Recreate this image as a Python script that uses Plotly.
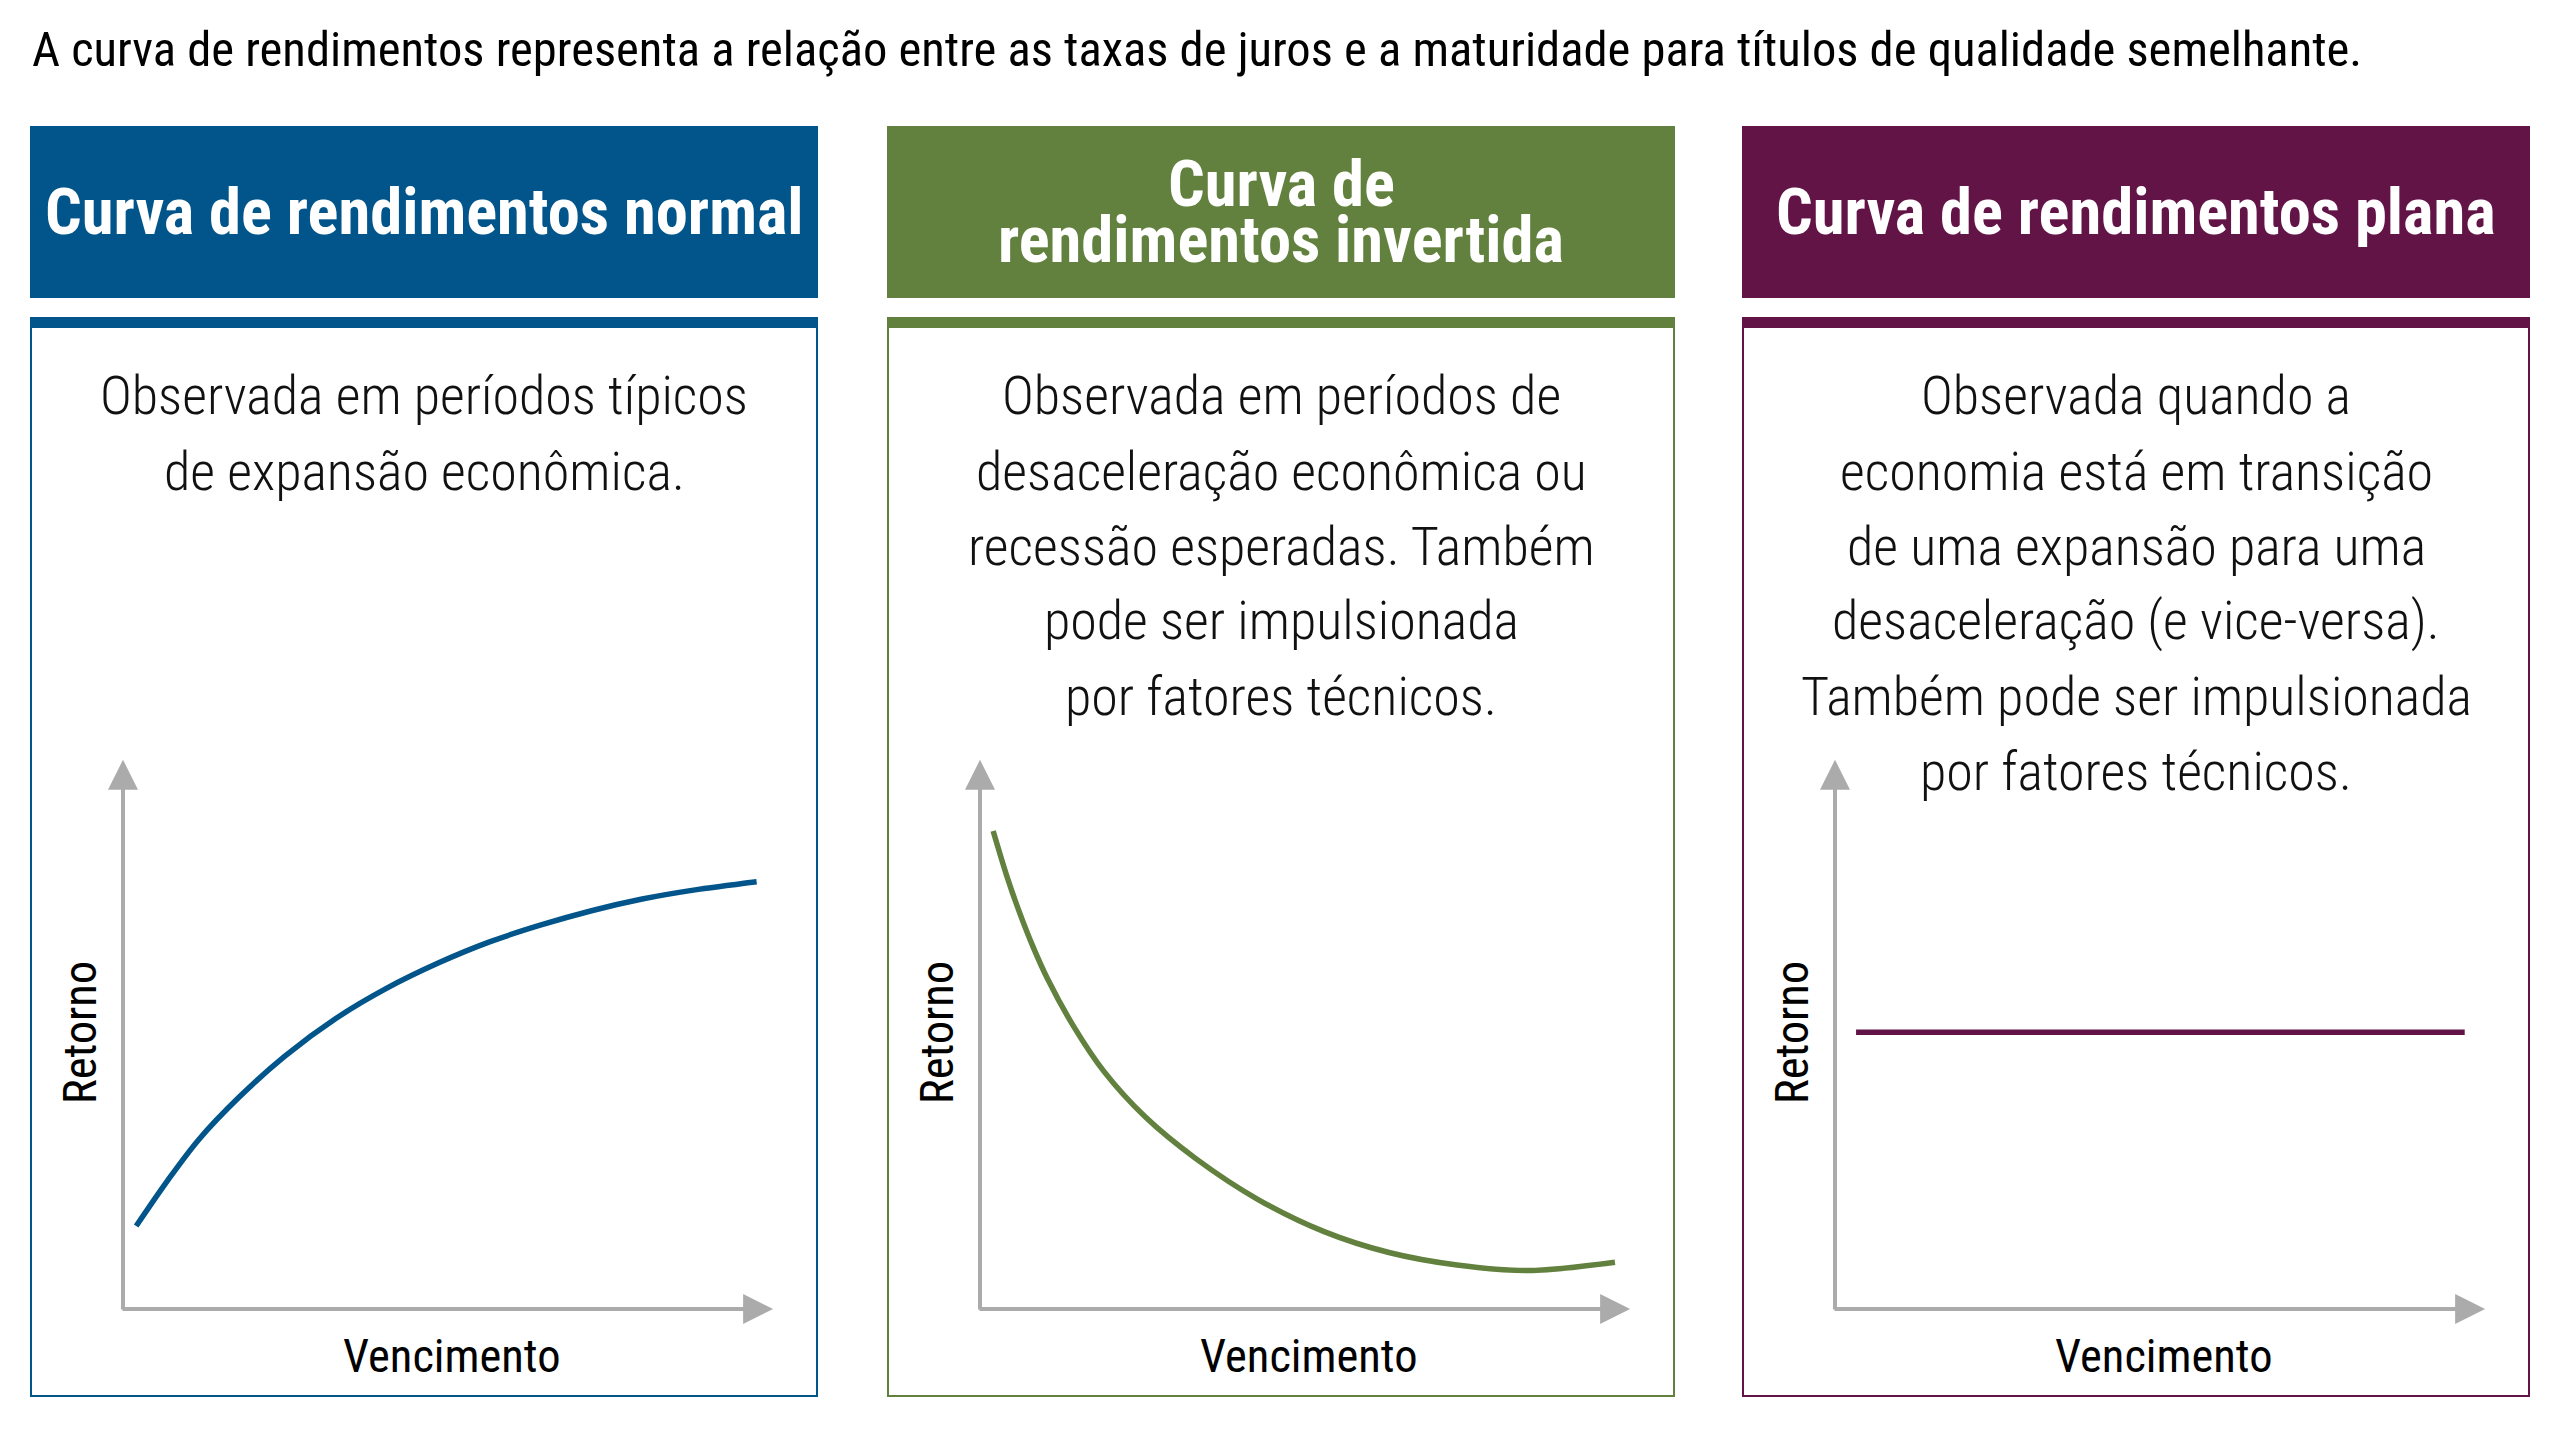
import plotly.graph_objects as go

W, H = 2560, 1440

# ---------------- data ----------------
title_text = ("A curva de rendimentos representa a relação entre as taxas de juros "
              "e a maturidade para títulos de qualidade semelhante.")

panel_titles = [
    ["Curva de rendimentos normal"],
    ["Curva de", "rendimentos invertida"],
    ["Curva de rendimentos plana"],
]
panel_descriptions = [
    ["Observada em períodos típicos", "de expansão econômica."],
    ["Observada em períodos de", "desaceleração econômica ou",
     "recessão esperadas. Também", "pode ser impulsionada", "por fatores técnicos."],
    ["Observada quando a", "economia está em transição", "de uma expansão para uma",
     "desaceleração (e vice-versa).", "Também pode ser impulsionada", "por fatores técnicos."],
]
x_label = "Vencimento"
y_label = "Retorno"

maturity_normal = [0.20, 0.68, 1.15, 1.77, 2.46, 3.24, 4.01, 4.79, 5.57, 6.34, 7.12, 7.89, 8.67, 9.63]
yield_normal = [1.49, 2.31, 3.04, 3.81, 4.54, 5.22, 5.76, 6.21, 6.59, 6.89, 7.15, 7.36, 7.52, 7.67]

maturity_inverted = [0.20, 0.40, 0.60, 0.80, 1.03, 1.43, 1.88, 2.51, 3.28, 4.22, 5.23, 6.23, 7.25, 8.33, 9.65]
yield_inverted = [8.58, 7.80, 7.12, 6.52, 5.92, 5.06, 4.27, 3.45, 2.70, 1.97, 1.39, 1.01, 0.79, 0.69, 0.84]

maturity_flat = [0.32, 9.57]
yield_flat = [4.97, 4.97]

colors = ["#02558A", "#62803E", "#621447"]
axis_gray = "#ABABAB"

# ---------------- style ----------------
FONT = "Roboto Condensed, Liberation Sans Narrow, DejaVu Sans Condensed, Roboto, sans-serif"
OFF = 8  # page body margin compensation

panel_left = [30, 887, 1742]
panel_width = 788
header_top, header_bottom = 126, 298
panel_top, panel_bar, panel_bottom = 318, 328, 1396
ax_left_off, ax_right_off = 93, 751   # y-axis line and x arrow tip, relative to panel left
ax_top, ax_bottom = 752, 1309


def px(x):
    return (x - OFF) / W


def py(y):
    return 1 - (y - OFF) / H


fig = go.Figure()
series = [(maturity_normal, yield_normal), (maturity_inverted, yield_inverted),
          (maturity_flat, yield_flat)]

shapes = []
annotations = []

for i in range(3):
    left = panel_left[i]
    right = left + panel_width
    cx = (left + right) / 2
    col = colors[i]
    xa = "x" if i == 0 else f"x{i+1}"
    ya = "y" if i == 0 else f"y{i+1}"

    fig.add_trace(go.Scatter(
        x=series[i][0], y=series[i][1], mode="lines",
        line=dict(color=col, width=5.5, shape="spline", smoothing=0.9),
        xaxis=xa, yaxis=ya, hoverinfo="skip", showlegend=False,
    ))

    dom_x = [px(left + ax_left_off), px(left + ax_right_off)]
    dom_y = [py(ax_bottom), py(ax_top)]
    xk = "xaxis" if i == 0 else f"xaxis{i+1}"
    yk = "yaxis" if i == 0 else f"yaxis{i+1}"
    fig.update_layout({
        xk: dict(domain=dom_x, range=[0, 10], visible=False, fixedrange=True, anchor=ya),
        yk: dict(domain=dom_y, range=[0, 10], visible=False, fixedrange=True, anchor=xa),
    })

    # header box
    shapes.append(dict(type="rect", xref="paper", yref="paper",
                       x0=px(left), x1=px(right), y0=py(header_bottom), y1=py(header_top),
                       fillcolor=col, line=dict(width=0), layer="below"))
    # panel outline
    shapes.append(dict(type="rect", xref="paper", yref="paper",
                       x0=px(left + 1), x1=px(right - 1), y0=py(panel_bottom), y1=py(panel_top),
                       fillcolor="rgba(0,0,0,0)", line=dict(color=col, width=2), layer="below"))
    # thick top bar of panel
    shapes.append(dict(type="rect", xref="paper", yref="paper",
                       x0=px(left), x1=px(right), y0=py(panel_bar), y1=py(panel_top),
                       fillcolor=col, line=dict(width=0), layer="below"))

    # header title lines
    tl = panel_titles[i]
    ys = [212] if len(tl) == 1 else [184, 240]
    for line, yy in zip(tl, ys):
        annotations.append(dict(
            text=line, xref="paper", yref="paper", x=px(cx), y=py(yy),
            xanchor="center", yanchor="middle", showarrow=False,
            font=dict(family=FONT, size=64.5, color="white", weight=700)))

    # description lines
    for k, line in enumerate(panel_descriptions[i]):
        annotations.append(dict(
            text=line, xref="paper", yref="paper", x=px(cx), y=py(396 + 75 * k),
            xanchor="center", yanchor="middle", showarrow=False,
            font=dict(family=FONT, size=54, color="#111111", weight=300)))

    # axes arrows
    annotations.append(dict(
        text="", xref=xa, yref=ya, x=9.88, y=0, ax=-0.03, ay=0, axref=xa, ayref=ya,
        showarrow=True, arrowhead=2, arrowsize=1.5, arrowwidth=4, arrowcolor=axis_gray,
        standoff=0))
    annotations.append(dict(
        text="", xref=xa, yref=ya, x=0, y=9.86, ax=0, ay=-0.036, axref=xa, ayref=ya,
        showarrow=True, arrowhead=2, arrowsize=1.5, arrowwidth=4, arrowcolor=axis_gray,
        standoff=0))

    # axis labels
    annotations.append(dict(
        text=x_label, xref="paper", yref="paper",
        x=px(left + (ax_left_off + ax_right_off) / 2), y=py(1356),
        xanchor="center", yanchor="middle", showarrow=False,
        font=dict(family=FONT, size=46.5, color="#000000")))
    annotations.append(dict(
        text=y_label, xref="paper", yref="paper",
        x=px(left + 50), y=py(1033), textangle=-90,
        xanchor="center", yanchor="middle", showarrow=False,
        font=dict(family=FONT, size=46.5, color="#000000")))

# main title
annotations.append(dict(
    text=title_text, xref="paper", yref="paper", x=px(30), y=py(49),
    xanchor="left", yanchor="middle", showarrow=False,
    font=dict(family=FONT, size=48.6, color="#000000")))

fig.update_layout(
    width=W, height=H,
    margin=dict(l=0, r=0, t=0, b=0),
    paper_bgcolor="white", plot_bgcolor="rgba(0,0,0,0)",
    shapes=shapes, annotations=annotations,
    showlegend=False,
)

fig.write_html("out.html", config={"displayModeBar": False})
